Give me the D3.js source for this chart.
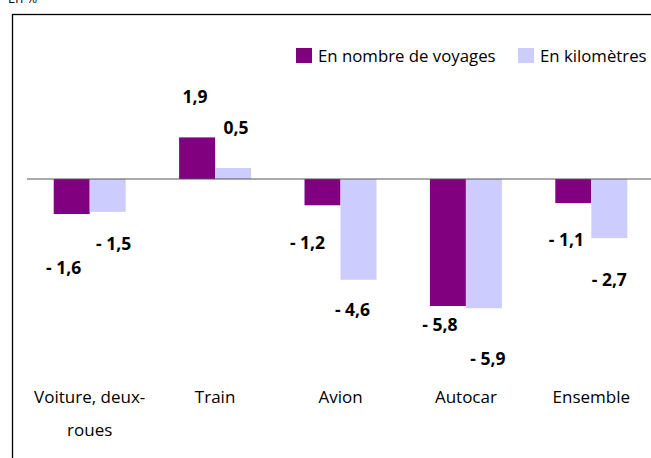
<!DOCTYPE html>
<html>
<head>
<meta charset="utf-8">
<script src="https://cdn.jsdelivr.net/npm/d3@7"></script>
<style>
  body { margin: 0; background: #fff; }
  svg { display: block; font-family: "Open Sans", sans-serif; }
</style>
</head>
<body>
<svg id="chart"></svg>
<script>
const width = 651;
const height = 458;

// data
const categories = ['Voiture, deux-roues', 'Train', 'Avion', 'Autocar', 'Ensemble'];
const catLines = [['Voiture, deux-', 'roues'], ['Train'], ['Avion'], ['Autocar'], ['Ensemble']];
const series = ['En nombre de voyages', 'En kilomètres'];
const voyages = [-1.6, 1.9, -1.2, -5.8, -1.1];
const kilometres = [-1.5, 0.5, -4.6, -5.9, -2.7];

// label layout (pixel gap from bar end, x shift) -- copied from the original excel placement
const labelGap = [[60, 38], [34, 34], [44, 36], [25, 57], [43, 48]];
const labelDx = [[-8, 6], [-2, 3], [-15, -6], [-8, 4], [-7, 0]];

const colors = ['#800080', '#ccccff'];

const svg = d3.select('#chart').attr('width', width).attr('height', height);

const x = d3.scaleBand().domain(categories).range([27, 654]).paddingInner(0.426).paddingOuter(0.213);
const xs = d3.scaleBand().domain(series).range([0, x.bandwidth()]);
const y = d3.scaleLinear().domain([-6, 2]).range([310.4, 135.2]);

// frame
svg.append('rect')
  .attr('x', 12.5).attr('y', 14.5)
  .attr('width', 700).attr('height', 500)
  .attr('fill', 'none').attr('stroke', '#000').attr('stroke-width', 1.3);

svg.append('text')
  .attr('x', 8).attr('y', 3)
  .attr('font-size', 13).attr('fill', '#000')
  .text('En %');

const rows = categories.map((c, i) => ({cat: c, i: i, vals: [voyages[i], kilometres[i]]}));

const groups = svg.selectAll('g.grp').data(rows).enter().append('g')
  .attr('class', 'grp')
  .attr('transform', d => `translate(${x(d.cat)},0)`);

groups.selectAll('rect').data(d => d.vals.map((v, k) => ({v: v, k: k}))).enter().append('rect')
  .attr('x', d => xs(series[d.k]))
  .attr('y', d => Math.min(y(d.v), y(0)))
  .attr('width', xs.bandwidth())
  .attr('height', d => Math.abs(y(d.v) - y(0)))
  .attr('fill', d => colors[d.k]);

// zero line
svg.append('line')
  .attr('x1', 27).attr('x2', 654)
  .attr('y1', y(0)).attr('y2', y(0))
  .attr('stroke', '#555').attr('stroke-width', 1);

const fmt = v => (v < 0 ? '- ' : '') + String(Math.abs(v).toFixed(1)).replace('.', ',');

groups.selectAll('text.val').data(d => d.vals.map((v, k) => ({v: v, k: k, i: d.i}))).enter().append('text')
  .attr('class', 'val')
  .attr('x', d => xs(series[d.k]) + xs.bandwidth() / 2 + labelDx[d.i][d.k])
  .attr('y', d => d.v >= 0 ? y(d.v) - labelGap[d.i][d.k] : y(d.v) + labelGap[d.i][d.k])
  .attr('text-anchor', 'middle')
  .attr('font-size', 17.5).attr('font-weight', 'bold').attr('fill', '#000')
  .text(d => fmt(d.v));

// category labels
groups.each(function(d) {
  const t = d3.select(this).append('text')
    .attr('text-anchor', 'middle')
    .attr('font-size', 17).attr('fill', '#000');
  catLines[d.i].forEach((ln, j) => {
    t.append('tspan')
      .attr('x', x.bandwidth() / 2)
      .attr('y', 403 + j * 33)
      .text(ln);
  });
});

// legend
const legend = svg.append('g');
const legX = [296, 518];
series.forEach((s, k) => {
  legend.append('rect')
    .attr('x', legX[k]).attr('y', 48)
    .attr('width', 16).attr('height', 15)
    .attr('fill', colors[k]);
  legend.append('text')
    .attr('x', legX[k] + 22).attr('y', 62)
    .attr('font-size', 16.8).attr('fill', '#000')
    .text(s);
});
</script>
</body>
</html>
